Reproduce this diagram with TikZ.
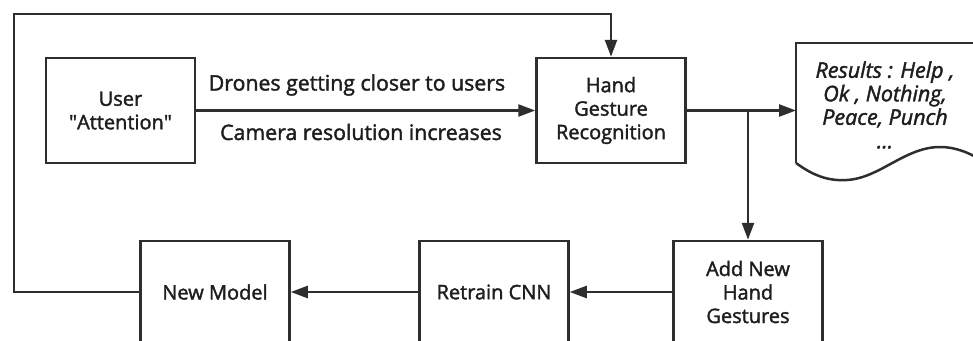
\documentclass[tikz,border=0pt]{standalone}
\usepackage{fontspec}
\setmainfont{Open Sans}
\newfontfamily\mf[FakeBold=1.8,ItalicFeatures={FakeBold=1.8}]{Open Sans}
\usetikzlibrary{arrows.meta}
\definecolor{ln}{HTML}{2E2E2E}
\definecolor{tx}{HTML}{1E1E1E}
\begin{document}
\begin{tikzpicture}[x=1pt,y=-1pt,
  line width=2.5pt, draw=ln, text=tx,
  box/.style={draw=ln, line width=2.5pt, minimum width=149pt, minimum height=105pt, align=center, inner sep=0pt, font=\mf\fontsize{20}{23.5}\selectfont},
  lowbox/.style={box, minimum height=102pt},
  lbl/.style={font=\mf\fontsize{21.3}{23.5}\selectfont, inner sep=0pt},
  arr/.style={draw=ln, line width=2.5pt, -{Triangle[length=17pt,width=12pt]}},
  ln/.style={draw=ln, line width=2.5pt}]
\useasboundingbox (0,0) rectangle (973,340);
\clip (0,0) rectangle (973,340);
\fill[white] (0,0) rectangle (973,340);

\node[box] (user) at (120.5,110.5) {User\\\textquotedbl Attention\textquotedbl};
\node[box] (hgr) at (611,110.5) {Hand\\Gesture\\Recognition};
\node[lowbox] (anhg) at (748,292) {Add New\\Hand\\Gestures};
\node[lowbox] (rcnn) at (494,292) {Retrain CNN};
\node[lowbox] (nm) at (215,292) {New Model};

\node[lbl] (l1) at (357,85) {Drones getting closer to users};
\node[lbl] (l2) at (361,132) {Camera resolution increases};

\coordinate (docin) at (796,110.5);
\coordinate (junc) at (748,110.5);
\coordinate (c1) at (14,292);
\coordinate (c2) at (14,14);
\coordinate (c3) at (611,14);

\draw[arr] (user.east) -- (hgr.west);
\draw[arr] (hgr.east) -- (docin);
\draw[arr] (junc) -- (anhg.north);
\draw[arr] (anhg.west) -- (rcnn.east);
\draw[arr] (rcnn.west) -- (nm.east);
\draw[arr, line join=miter] (nm.west) -- (c1) -- (c2) -- (c3) -- (hgr.north);

\draw[ln, line join=miter] (796,163) -- (796,43) -- (985,43);
\draw[ln] (796,163) .. controls (815,177) and (830,181) .. (847,180)
  .. controls (880,178) and (905,147) .. (940,147)
  .. controls (955,147) and (968,152) .. (985,162);
\node[font=\mf\fontsize{21.5}{23.5}\selectfont\itshape, align=center, inner sep=0pt] (doc) at (885,105) {Results : Help ,\\Ok , Nothing,\\Peace, Punch\\...};
\end{tikzpicture}
\end{document}
